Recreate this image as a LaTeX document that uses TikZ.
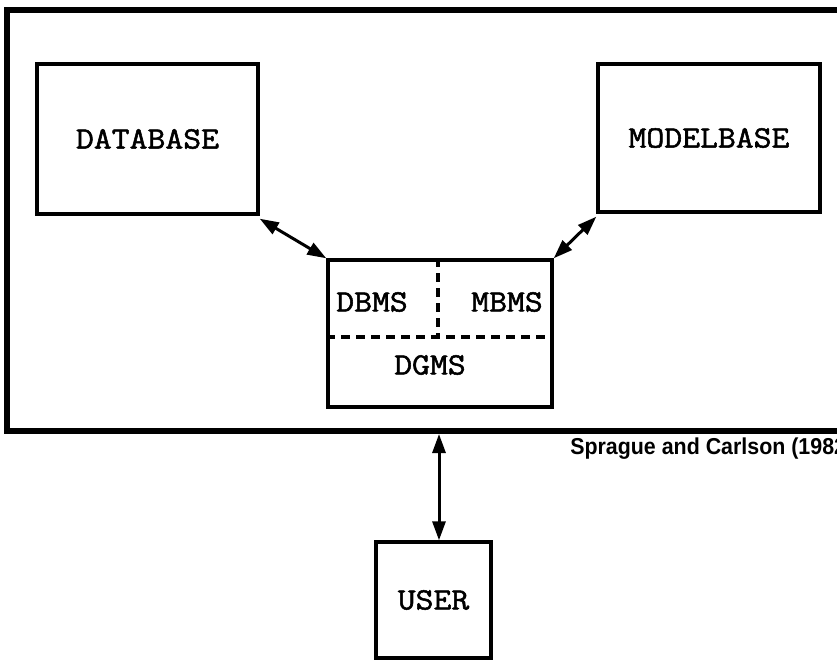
\documentclass[tikz,border=0pt]{standalone}
\usepackage{fontspec}
\usepackage{graphicx}
\newfontfamily\boxfont{Latin Modern Mono}[FakeBold=1.6]
\newfontfamily\notefont{Liberation Sans}
\usetikzlibrary{arrows.meta}
\newcommand{\lbl}[1]{\scalebox{1.12}[1]{#1}}
\begin{document}
\begin{tikzpicture}[x=1pt,y=-1pt,
  boxtext/.style={font=\fontsize{31}{31}\selectfont\boxfont},
  box/.style={draw,line width=3.4pt,inner sep=0pt,boxtext},
  link/.style={line width=3pt,{Triangle[length=19pt,width=13pt]}-{Triangle[length=19pt,width=13pt]}},
  part/.style={line width=3.2pt,dash pattern=on 9pt off 6pt},
  frameline/.style={line width=6.5pt}]
\useasboundingbox (0,0) rectangle (837,661);
\clip (0,0) rectangle (837,661);

% system boundary, running past the right edge
\draw[frameline] (900,10) -- (7,10) -- (7,431) -- (900,431);
\coordinate (sysbottom) at (439,431);

% components
\node[box,minimum width=221pt,minimum height=150pt] (db) at (147.5,139) {\lbl{DATABASE}};
\node[box,minimum width=222pt,minimum height=148pt] (mb) at (709,138) {\lbl{MODELBASE}};
\node[box,minimum width=224pt,minimum height=147pt] (dss) at (440,333.5) {};
\node[box,minimum width=115pt,minimum height=116pt] (user) at (433.5,600) {\lbl{USER}};

% internal partitions of the management box
\coordinate (split) at (438,337);
\draw[part] (dss.north -| split) -- (split);
\draw[part] (dss.west |- split) -- (dss.east |- split);
\node[boxtext] (dbms) at (372,302) {\lbl{DBMS}};
\node[boxtext] (mbms) at (507,302) {\lbl{MBMS}};
\node[boxtext] (dgms) at (430,365) {\lbl{DGMS}};

% connectors
\draw[link] ([yshift=-3pt]db.south east) -- (dss.north west);
\draw[link] ([yshift=-3pt]mb.south west) -- (dss.north east);
\draw[link] ([yshift=-3pt]sysbottom) -- (user.north -| sysbottom);

% source note
\node[anchor=west,font=\notefont\bfseries\fontsize{23}{23}\selectfont,xscale=0.93,transform shape] (src) at (567,449) {Sprague and Carlson (1982)};
\end{tikzpicture}
\end{document}
